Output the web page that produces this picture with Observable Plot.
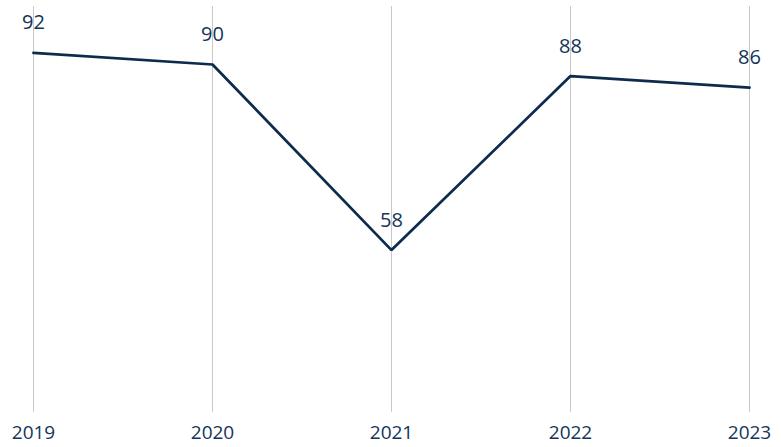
<!DOCTYPE html>
<html>
<head>
<meta charset="utf-8">
<script src="https://cdn.jsdelivr.net/npm/d3@7"></script>
<script src="https://cdn.jsdelivr.net/npm/@observablehq/plot@0.6"></script>
<style>
  html, body { margin: 0; padding: 0; background: #fff; }
  #chart { width: 781px; height: 447px; }
</style>
</head>
<body>
<div id="chart"></div>
<script>
const years = ["2019", "2020", "2021", "2022", "2023"];
const values = [92, 90, 58, 88, 86];
const yDomain = [30, 100];

const data = years.map((y, i) => ({year: y, value: values[i]}));

const lineColor = "#0d2b4d";
const textColor = "#14345a";
const font = "'Open Sans', 'Liberation Sans', sans-serif";

const chart = Plot.plot({
  width: 781,
  height: 447,
  marginTop: 6,
  marginBottom: 35,
  marginLeft: 33,
  marginRight: 32,
  style: {fontFamily: font, background: "#fff"},
  x: {type: "point", domain: years, padding: 0, label: null},
  y: {domain: yDomain, axis: null},
  marks: [
    Plot.gridX(years, {stroke: "#c8c8c8", strokeOpacity: 1, strokeWidth: 1}),
    Plot.axisX({tickSize: 0, tickPadding: 13, fontSize: 19, fill: textColor, label: null}),
    Plot.line(data, {x: "year", y: "value", stroke: lineColor, strokeWidth: 2.75, strokeLinejoin: "miter"}),
    Plot.text(data, {x: "year", y: "value", text: d => String(d.value), dy: -30, fontSize: 20, fill: textColor, textAnchor: "middle"})
  ]
});
document.getElementById("chart").appendChild(chart);
</script>
</body>
</html>
